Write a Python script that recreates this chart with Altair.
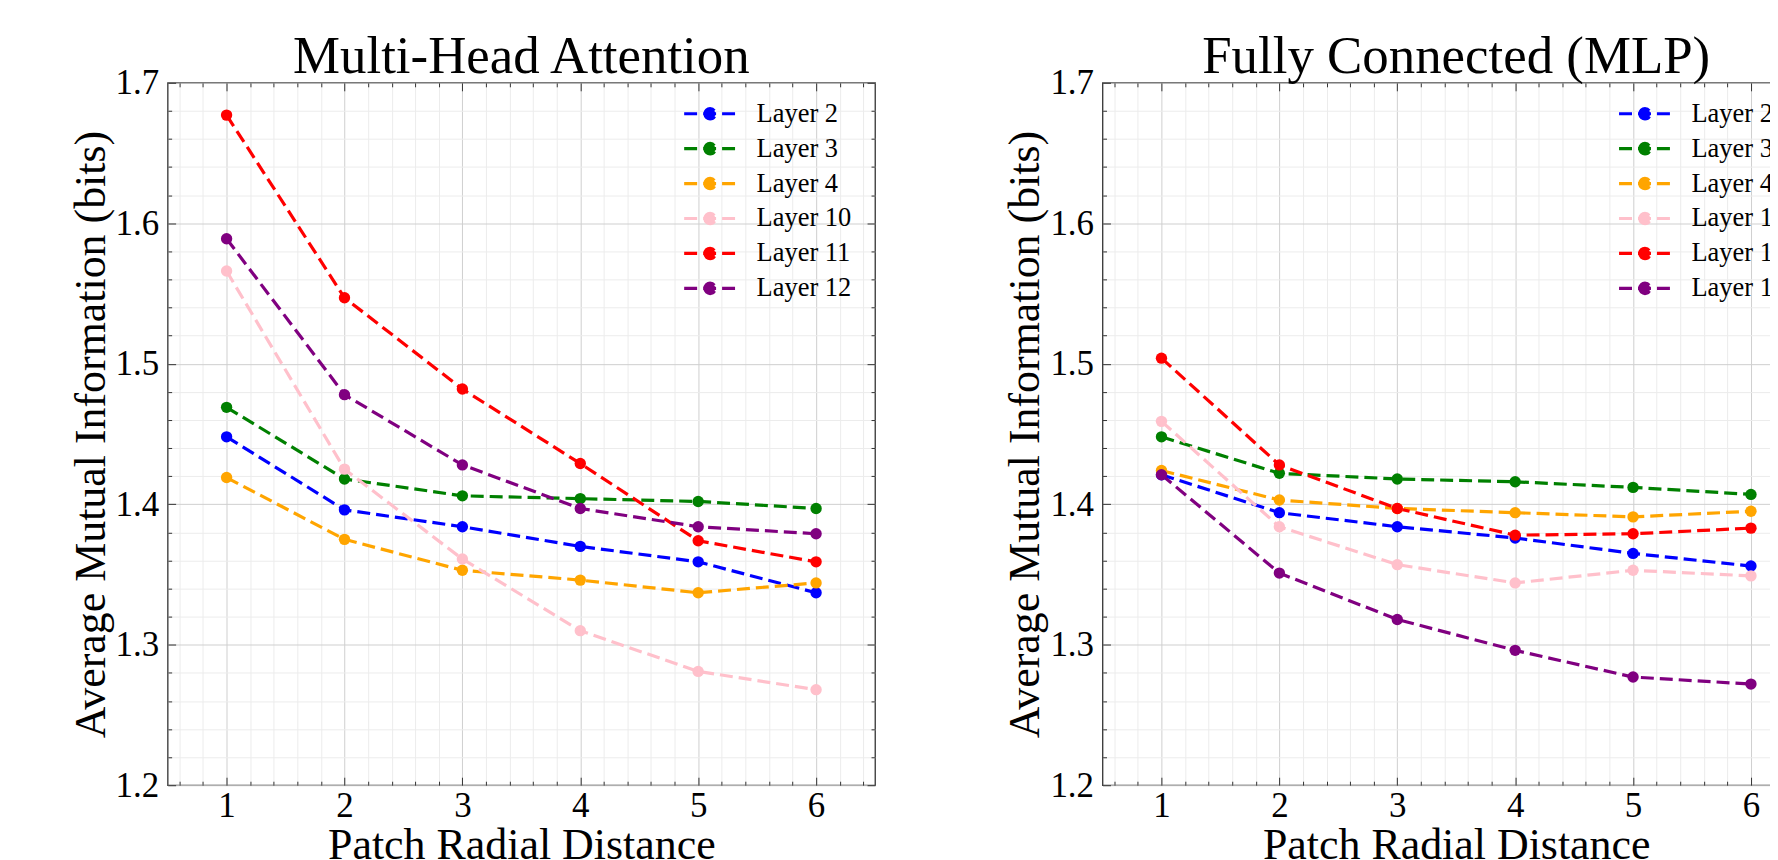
import altair as alt
import pandas as pd

# ---------------- data ----------------
distances = [1, 2, 3, 4, 5, 6]
layers = ["Layer 2", "Layer 3", "Layer 4", "Layer 10", "Layer 11", "Layer 12"]
colors = ["blue", "green", "orange", "pink", "red", "purple"]

mha_layer2 = [1.448, 1.396, 1.384, 1.370, 1.359, 1.337]
mha_layer3 = [1.469, 1.418, 1.406, 1.404, 1.402, 1.397]
mha_layer4 = [1.419, 1.375, 1.353, 1.346, 1.337, 1.344]
mha_layer10 = [1.566, 1.425, 1.361, 1.310, 1.281, 1.268]
mha_layer11 = [1.677, 1.547, 1.482, 1.429, 1.374, 1.359]
mha_layer12 = [1.589, 1.478, 1.428, 1.397, 1.384, 1.379]

mlp_layer2 = [1.421, 1.394, 1.384, 1.376, 1.365, 1.356]
mlp_layer3 = [1.448, 1.422, 1.418, 1.416, 1.412, 1.407]
mlp_layer4 = [1.424, 1.403, 1.397, 1.394, 1.391, 1.395]
mlp_layer10 = [1.459, 1.384, 1.357, 1.344, 1.353, 1.349]
mlp_layer11 = [1.504, 1.428, 1.397, 1.378, 1.379, 1.383]
mlp_layer12 = [1.421, 1.351, 1.318, 1.296, 1.277, 1.272]

titles = ["Multi-Head Attention", "Fully Connected (MLP)"]
x_title = "Patch Radial Distance"
y_title = "Average Mutual Information (bits)"

# tick positions (major + minor)
x_ticks = [round(0.6 + 0.2 * i, 1) for i in range(30)]
y_ticks = [round(1.2 + 0.02 * i, 2) for i in range(26)]

# ---------------- styling ----------------
FONT = "Liberation Serif"
W, H = 709, 704
X_MAJOR = "abs(datum.value - round(datum.value)) < 0.001"
Y_MAJOR = "abs(datum.value * 10 - round(datum.value * 10)) < 0.001"
LEGEND_PATH = ("M-1,0L1,0M-0.2,0A0.2,0.2,0,1,1,0.2,0"
               "A0.2,0.2,0,1,1,-0.2,0Z")


def make_df(series):
    rows = []
    for name, vals in zip(layers, series):
        for d, v in zip(distances, vals):
            rows.append({"distance": d, "value": v, "layer": name})
    return pd.DataFrame(rows)


def tick_axis(orient, offset, values, major):
    return alt.Axis(
        orient=orient, offset=offset, values=values, labels=False,
        domain=False, grid=False, title=None, tickColor="#333",
        tickWidth=1, minExtent=0, maxExtent=0,
        tickSize={"condition": {"test": major, "value": 8}, "value": 4},
    )


def panel(title, df):
    xs = alt.Scale(domain=[0.5, 6.5], nice=False, zero=False)
    ys = alt.Scale(domain=[1.2, 1.7], nice=False, zero=False)

    color = alt.Color(
        "layer:N",
        sort=layers,
        scale=alt.Scale(domain=layers, range=colors),
        legend=alt.Legend(
            title=None, orient="none", legendX=515.7, legendY=13.5,
            direction="vertical",
            symbolType=LEGEND_PATH, symbolSize=2704, symbolStrokeWidth=3.2,
            symbolDash=[13, 6], symbolOpacity=1,
            labelFont=FONT, labelFontSize=26.5, labelColor="black",
            labelOffset=18.6, clipHeight=35, rowPadding=0, padding=0,
        ),
    )

    lines = alt.Chart(df).mark_line(strokeDash=[13, 6], strokeWidth=3.2).encode(
        x=alt.X("distance:Q", scale=xs, axis=alt.Axis(
            orient="bottom", values=x_ticks, title=x_title,
            labelExpr=f"{X_MAJOR} ? format(datum.value, 'd') : ''",
            labelOverlap=False, labelFlush=False, ticks=False, domain=False,
            grid=True,
            gridColor={"condition": {"test": X_MAJOR, "value": "#cfcfcf"},
                       "value": "#ececec"},
            labelFontSize=35, labelPadding=3, titleFontSize=44,
            titlePadding=0,
        )),
        y=alt.Y("value:Q", scale=ys, axis=alt.Axis(
            orient="left", values=y_ticks, title=y_title,
            labelExpr=f"{Y_MAJOR} ? format(datum.value, '.1f') : ''",
            labelOverlap=False, labelFlush=False, ticks=False, domain=False,
            grid=True,
            gridColor={"condition": {"test": Y_MAJOR, "value": "#cfcfcf"},
                       "value": "#ececec"},
            labelFontSize=35, labelPadding=9, titleFontSize=44,
            titlePadding=2,
        )),
        color=color,
    )

    points = alt.Chart(df).mark_point(filled=True, size=130, opacity=1).encode(
        x=alt.X("distance:Q", scale=xs,
                axis=tick_axis("top", -H, x_ticks, X_MAJOR)),
        y=alt.Y("value:Q", scale=ys,
                axis=tick_axis("right", -W, y_ticks, Y_MAJOR)),
        color=color,
    )

    frame_ticks = alt.Chart(df).mark_point(opacity=0).encode(
        x=alt.X("distance:Q", scale=xs,
                axis=tick_axis("bottom", -H, x_ticks, X_MAJOR)),
        y=alt.Y("value:Q", scale=ys,
                axis=tick_axis("left", -W, y_ticks, Y_MAJOR)),
    )

    return alt.layer(lines, points, frame_ticks).resolve_axis(
        x="independent", y="independent"
    ).properties(
        width=W, height=H,
        title=alt.TitleParams(title, font=FONT, fontSize=53,
                              fontWeight="normal", color="black", offset=-60,
                              baseline="alphabetic", anchor="middle"),
    )


mha_df = make_df([mha_layer2, mha_layer3, mha_layer4, mha_layer10,
                  mha_layer11, mha_layer12])
mlp_df = make_df([mlp_layer2, mlp_layer3, mlp_layer4, mlp_layer10,
                  mlp_layer11, mlp_layer12])

chart = alt.hconcat(
    panel(titles[0], mha_df), panel(titles[1], mlp_df), spacing=126
).resolve_scale(color="independent").resolve_legend(
    color="independent"
).properties(
    padding={"left": 60, "top": 21, "right": -42, "bottom": 0},
).configure(
    font=FONT,
).configure_axis(
    labelFont=FONT, titleFont=FONT, labelColor="black", titleColor="black",
    titleFontWeight="normal", gridWidth=1,
).configure_view(
    stroke="#333", strokeWidth=1.3,
)

chart.save("out.html", embed_options={"renderer": "svg", "actions": False})
